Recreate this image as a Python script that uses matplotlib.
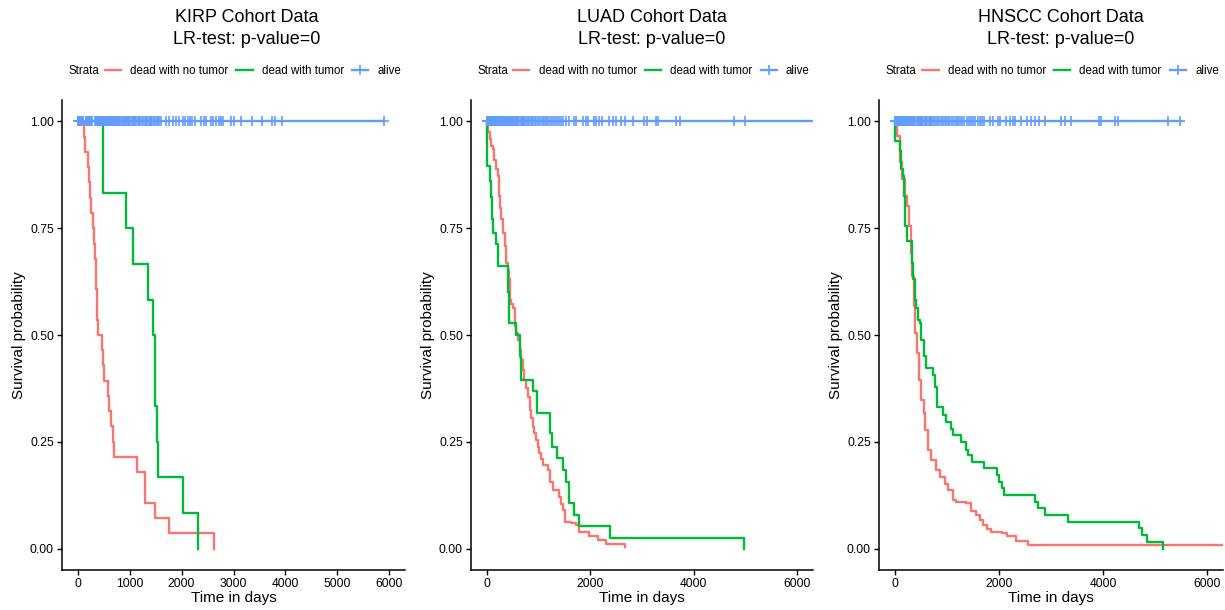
import matplotlib.pyplot as plt
from matplotlib.lines import Line2D

plt.rcParams['font.family'] = ['Liberation Sans', 'DejaVu Sans']

RED = '#F8766D'
GREEN = '#00BA38'
BLUE = '#619CFF'

strata = ['dead with no tumor', 'dead with tumor', 'alive']
cohorts = ['KIRP', 'LUAD', 'HNSCC']
p_values = ['0', '0', '0']
x_tick_step = [1000, 2000, 2000]

# ---- KIRP ----
kirp_nt_t = [120, 145, 197, 229, 245, 261, 300, 320, 338, 348, 357, 368, 376, 388,
             465, 485, 512, 580, 605, 644, 675, 707, 1134, 1300, 1490, 1765, 2618]
kirp_nt_s = [0.964, 0.929, 0.893, 0.857, 0.821, 0.786, 0.750, 0.714, 0.679, 0.643,
             0.607, 0.571, 0.536, 0.500, 0.464, 0.429, 0.393, 0.357, 0.321, 0.286,
             0.250, 0.214, 0.179, 0.107, 0.071, 0.036, 0.0]
kirp_wt_t = [497, 930, 1057, 1357, 1459, 1490, 1522, 1554, 2032, 2319]
kirp_wt_s = [0.833, 0.750, 0.667, 0.583, 0.500, 0.333, 0.250, 0.167, 0.083, 0.0]
kirp_alive_censor = [3, 12, 22, 35, 48, 60, 72, 85, 98, 110,
                     155, 168, 180, 195, 210, 225, 240, 255, 268,
                     331, 345, 360, 372, 385, 398, 410, 425, 440, 452, 465, 480, 495,
                     510, 525, 540, 555, 570, 585, 600, 615, 632, 650, 668, 685, 700,
                     718, 735, 752, 770, 790, 808, 825, 845, 865, 885, 905, 925, 945, 968,
                     990, 1015, 1040, 1065, 1090, 1110, 1130, 1160, 1180, 1210, 1235,
                     1260, 1290, 1315, 1340, 1365, 1384,
                     1414, 1440, 1465, 1490, 1520, 1545, 1570, 1605,
                     1701, 1765, 1828, 1892, 1956, 2019, 2064, 2115, 2166, 2211, 2255,
                     2370, 2434, 2466, 2561, 2612, 2657, 2721, 2752, 2803, 2955, 3008,
                     3136, 3359, 3550, 3742, 3805, 3925, 5905]
kirp_alive_end = 5905

# ---- LUAD ----
luad_nt_t = [6, 26, 60, 90, 122, 150, 173, 218, 238, 260, 283, 315, 347, 379, 405,
             430, 456, 480, 507, 540, 570, 604, 636, 668, 700, 732, 765, 796, 829, 860,
             893, 925, 957, 990, 1021, 1050, 1085, 1182, 1227, 1291, 1407, 1440, 1471,
             1522, 1631, 1728, 1792, 1985, 2146, 2306, 2678]
luad_nt_s = [0.99, 0.974, 0.958, 0.943, 0.935, 0.910, 0.888, 0.872, 0.825, 0.798,
             0.771, 0.739, 0.708, 0.669, 0.650, 0.630, 0.583, 0.573, 0.563, 0.520,
             0.505, 0.489, 0.465, 0.442, 0.418, 0.395, 0.375, 0.356, 0.325, 0.305,
             0.285, 0.270, 0.254, 0.238, 0.223, 0.210, 0.196, 0.184, 0.157, 0.137,
             0.121, 0.105, 0.090, 0.062, 0.059, 0.055, 0.040, 0.030, 0.020, 0.012,
             0.004]
luad_wt_t = [2, 6, 58, 80, 100, 118, 173, 218, 411, 430, 572, 636, 668, 893, 970,
             1233, 1265, 1355, 1484, 1535, 1599, 1696, 1779, 2383, 4971]
luad_wt_s = [0.927, 0.896, 0.861, 0.822, 0.771, 0.739, 0.712, 0.661, 0.600, 0.528,
             0.501, 0.450, 0.395, 0.368, 0.317, 0.270, 0.239, 0.211, 0.184, 0.156,
             0.106, 0.078, 0.052, 0.026, 0.0]
luad_alive_censor = [2, 10, 18, 26, 34, 42, 50, 60, 70, 80, 90, 100, 110, 120, 130,
                     142, 154, 166, 178, 190, 202, 215, 228, 241, 254, 267, 280, 295,
                     310, 325, 340, 355, 370, 385, 400, 418, 436, 454, 472, 490, 510,
                     530, 550, 570, 590, 612, 634, 656, 678, 700, 725, 750, 775, 800,
                     825, 850, 878, 906, 934, 962, 990, 1020, 1050, 1080, 1110, 1140,
                     1175, 1210, 1245, 1280, 1315, 1350, 1390, 1430, 1471,
                     1535, 1599, 1696, 1728, 1856, 1920, 1953, 2081, 2113, 2177, 2229,
                     2370, 2434, 2498, 2595, 2678, 2820, 3044, 3090, 3270, 3302, 3656,
                     3732, 4779, 4991]
luad_alive_end = 6400

# ---- HNSCC ----
hnscc_nt_t = [32, 51, 96, 141, 192, 244, 269, 308, 333, 372, 397, 429, 468, 513, 558,
              589, 641, 705, 801, 865, 961, 1026, 1122, 1186, 1378, 1461, 1570, 1634,
              1699, 1763, 1846, 2051, 2148, 2321, 2564, 6400]
hnscc_nt_s = [0.99, 0.966, 0.904, 0.864, 0.825, 0.802, 0.755, 0.692, 0.637, 0.567,
              0.504, 0.458, 0.395, 0.348, 0.317, 0.278, 0.231, 0.207, 0.184, 0.168,
              0.152, 0.137, 0.113, 0.110, 0.107, 0.087, 0.079, 0.067, 0.055, 0.047,
              0.040, 0.036, 0.029, 0.017, 0.008, 0.008]
hnscc_wt_t = [2, 96, 115, 160, 179, 205, 244, 333, 353, 385, 417, 449, 481, 513, 564,
              609, 737, 782, 821, 930, 981, 1077, 1122, 1282, 1378, 1410, 1487, 1718,
              1955, 2000, 2051, 2103, 2692, 2743, 2884, 3320, 4679, 4744, 4840, 5147]
hnscc_wt_s = [0.955, 0.930, 0.888, 0.872, 0.825, 0.755, 0.720, 0.669, 0.630, 0.583,
              0.563, 0.536, 0.528, 0.489, 0.450, 0.422, 0.406, 0.379, 0.332, 0.313,
              0.297, 0.281, 0.266, 0.250, 0.231, 0.219, 0.203, 0.188, 0.172, 0.157,
              0.141, 0.125, 0.110, 0.094, 0.078, 0.063, 0.048, 0.031, 0.016, 0.0]
hnscc_alive_censor = [3, 15, 30, 45, 60, 75, 90, 105, 120, 135, 150, 165, 180, 195, 210,
                      228, 246, 264, 282, 300, 320, 340, 360, 380, 400, 420, 440, 460,
                      480, 500, 525, 550, 575, 600, 625, 650, 675, 700, 725, 750, 780,
                      810, 840, 870, 900, 930, 960, 990, 1020, 1050, 1085, 1120, 1155,
                      1190, 1225, 1260, 1300, 1340, 1380, 1420, 1460, 1500, 1545, 1590,
                      1635, 1680, 1724,
                      1821, 1885, 1981, 2013, 2141, 2205, 2269, 2314, 2429, 2545, 2622,
                      2699, 2763, 2878, 3199, 3263, 3378, 3917, 3968, 4224, 4276, 5250,
                      5474]
hnscc_alive_end = 5500

panels = [
    (kirp_nt_t, kirp_nt_s, kirp_wt_t, kirp_wt_s, kirp_alive_censor, kirp_alive_end),
    (luad_nt_t, luad_nt_s, luad_wt_t, luad_wt_s, luad_alive_censor, luad_alive_end),
    (hnscc_nt_t, hnscc_nt_s, hnscc_wt_t, hnscc_wt_s, hnscc_alive_censor, hnscc_alive_end),
]

W, H = 1225, 610
fig = plt.figure(figsize=(W / 100, H / 100), dpi=100)

ax_left_px = [62, 471, 879]
ax_width_px = [343, 342, 344]
title_x_px = [247, 652, 1061]
top_px, bottom_px = 100, 570

LW = 1.7
for i, (nt_t, nt_s, wt_t, wt_s, cens, alive_end) in enumerate(panels):
    ax = fig.add_axes([ax_left_px[i] / W, 1 - bottom_px / H,
                       ax_width_px[i] / W, (bottom_px - top_px) / H])

    ax.step([0] + nt_t, [1.0] + nt_s, where='post', color=RED, lw=LW)
    ax.step([0] + wt_t, [1.0] + wt_s, where='post', color=GREEN, lw=LW)
    ax.plot([0, alive_end], [1.0, 1.0], color=BLUE, lw=LW)
    ax.plot(cens, [1.0] * len(cens), ls='none', marker='+', ms=6.5, mew=1.2,
            color=BLUE, clip_on=False)

    ax.set_xlim(-300, 6300)
    ax.set_ylim(-0.05, 1.05)
    ax.set_xticks(range(0, 6001, x_tick_step[i]))
    ax.set_yticks([0, 0.25, 0.5, 0.75, 1.0])
    ax.set_yticklabels(['0.00', '0.25', '0.50', '0.75', '1.00'])
    for s in ['top', 'right']:
        ax.spines[s].set_visible(False)
    for s in ['left', 'bottom']:
        ax.spines[s].set_linewidth(1.1)
        ax.spines[s].set_color('black')
    ax.tick_params(length=3.3, width=1.0, pad=2.5, labelsize=8.7, colors='black')
    ax.set_xlabel('Time in days', fontsize=11, labelpad=1)
    ax.set_ylabel('Survival probability', fontsize=11, labelpad=3)

    handles = [Line2D([], [], color=RED, lw=LW),
               Line2D([], [], color=GREEN, lw=LW),
               Line2D([], [], color=BLUE, lw=LW, marker='+', ms=6.5, mew=1.2)]
    ax.legend(handles, strata, ncol=3, loc='center', bbox_to_anchor=(0.557, 1.062),
              frameon=False, fontsize=8.3, handlelength=1.4, handletextpad=0.8,
              columnspacing=0.7, borderpad=0, borderaxespad=0)
    ax.text(0.02, 1.062, 'Strata', transform=ax.transAxes, ha='left', va='center',
            fontsize=8.3)

    fig.text(title_x_px[i] / W, 1 - 22 / H, f'{cohorts[i]} Cohort Data',
             ha='center', va='baseline', fontsize=13)
    fig.text(title_x_px[i] / W, 1 - 43.5 / H, f'LR-test: p-value={p_values[i]}',
             ha='center', va='baseline', fontsize=13)

fig.savefig('out.png', dpi=100)
